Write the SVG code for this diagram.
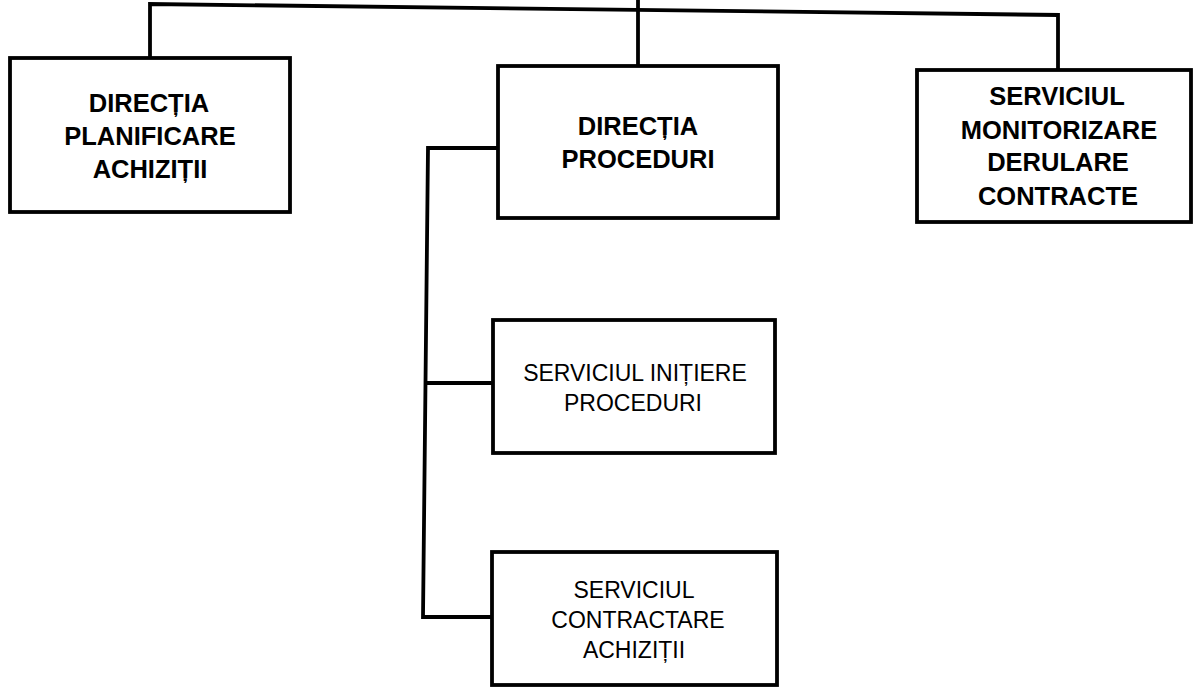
<svg xmlns="http://www.w3.org/2000/svg" width="1194" height="697" viewBox="0 0 1194 697">
<style>
.box{fill:#fff;stroke:#000;stroke-width:3.8}
.ln{fill:none;stroke:#000;stroke-width:3.8;stroke-linejoin:miter}
.tb{font-family:"Liberation Sans",Arial,sans-serif;font-weight:bold;font-size:25.5px;fill:#000;text-anchor:middle}
.tr{font-family:"Liberation Sans",Arial,sans-serif;font-size:23px;fill:#000;text-anchor:middle}
</style>
<rect width="1194" height="697" fill="#fff"/>
<g id="connectors">
<polyline class="ln" points="150,58 150,4 1058,15 1058,70"/>
<line class="ln" x1="638" y1="0" x2="638" y2="66"/>
<polyline class="ln" points="498,148 428,148 423,617 492,617"/>
<line class="ln" x1="426" y1="383" x2="493" y2="383"/>
</g>
<g id="n1">
<rect class="box" x="10" y="58" width="280" height="154"/>
<text class="tb" x="149" y="112">DIRECȚIA</text>
<text class="tb" x="150" y="145">PLANIFICARE</text>
<text class="tb" x="150" y="178">ACHIZIȚII</text>
</g>
<g id="n2">
<rect class="box" x="498" y="66" width="280" height="152"/>
<text class="tb" x="638" y="135">DIRECȚIA</text>
<text class="tb" x="638" y="168">PROCEDURI</text>
</g>
<g id="n3">
<rect class="box" x="917" y="70" width="274" height="152"/>
<text class="tb" x="1057" y="105">SERVICIUL</text>
<text class="tb" x="1059" y="139">MONITORIZARE</text>
<text class="tb" x="1058" y="171">DERULARE</text>
<text class="tb" x="1058" y="205">CONTRACTE</text>
</g>
<g id="n4">
<rect class="box" x="493" y="320" width="282" height="133"/>
<text class="tr" x="635" y="381">SERVICIUL INIȚIERE</text>
<text class="tr" x="633" y="411">PROCEDURI</text>
</g>
<g id="n5">
<rect class="box" x="492" y="552" width="285" height="133"/>
<text class="tr" x="634" y="598">SERVICIUL</text>
<text class="tr" x="638" y="628">CONTRACTARE</text>
<text class="tr" x="634" y="658">ACHIZIȚII</text>
</g>
</svg>
